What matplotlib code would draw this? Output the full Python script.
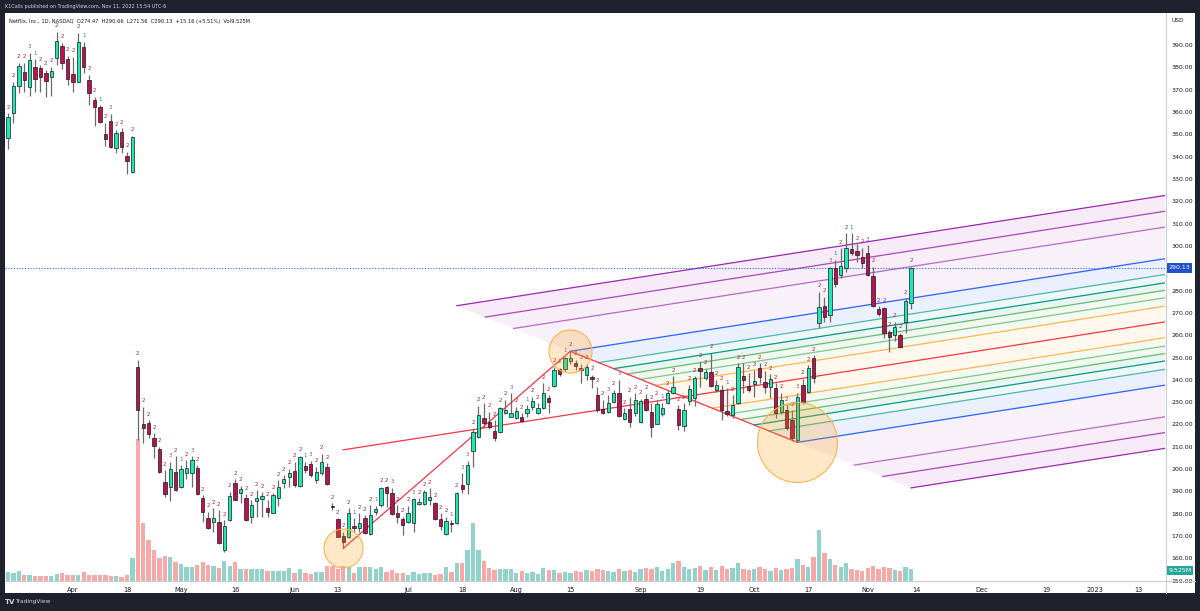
import matplotlib.pyplot as plt
import numpy as np
from matplotlib.patches import Rectangle, Polygon
from matplotlib.lines import Line2D

W, H = 1200, 611

# bar index 0 = Apr 1 2022 (trading days), first bar = Mar 16
first_bar = -12
opens = [348.2, 359.7, 371.8, 378.0, 371.1, 380.3, 379.6, 377.3, 375.5, 384.3, 389.6, 383.6,
         377.0, 373.6, 389.2, 374.3, 365.4, 362.1, 350.1, 356.1, 343.7, 351.2, 340.3, 333.2,
         245.6, 220.2, 220.5, 214.1, 209.1, 194.3, 191.8, 198.8, 192.1, 198.4, 198.1, 200.7,
         186.9, 178.0, 176.2, 176.2, 163.7, 177.2, 193.6, 189.4, 187.2, 178.4, 185.8, 186.5,
         182.4, 180.5, 186.9, 193.6, 196.6, 199.1, 192.3, 201.2, 202.3, 195.1, 198.1, 201.1,
         183.5, 177.6,
         170.0, 169.5, 174.5, 173.7, 178.0, 170.9, 180.6, 183.9, 192.1, 189.4, 180.2, 177.6,
         176.4, 176.0, 184.2, 184.4, 186.1, 185.0, 177.6, 170.8, 176.0, 175.7, 192.9, 193.4,
         208.2, 214.2, 222.7, 221.2, 217.2, 216.7, 225.0, 223.5, 222.7, 223.2, 225.3, 228.0,
         225.3, 227.2, 231.7, 237.4, 244.7, 244.7, 248.5,
         247.7, 245.5, 242.2, 241.2, 233.2, 226.8, 225.7, 230.2, 234.3, 222.3, 227.0, 225.0,
         221.3, 231.3, 225.7, 220.4, 224.5, 229.8, 234.0, 226.8, 219.5, 230.7, 231.7, 245.4,
         240.7, 243.3, 235.5, 235.5, 226.0, 224.2, 229.8, 241.8, 237.3, 238.0, 245.1, 239.2,
         236.9, 236.2, 225.7, 226.5, 221.8, 213.1, 237.9, 234.7, 249.9, 265.4, 273.2, 269.0,
         290.2, 287.0, 290.0, 298.6, 297.7, 295.2, 296.7, 286.7, 271.7, 272.1, 261.3, 260.1,
         260.1, 266.0, 274.47]
highs = [359.4, 373.6, 382.1, 382.1, 386.5, 383.6, 381.0, 378.8, 380.3, 396.0, 391.0, 385.1,
         384.8, 395.5, 391.5, 376.6, 366.8, 363.1, 355.2, 359.1, 351.9, 352.7, 342.2, 349.4,
         248.9, 228.0, 222.0, 216.0, 210.0, 199.6, 203.3, 205.8, 201.8, 204.0, 205.8, 201.8,
         188.4, 180.9, 182.4, 181.7, 177.2, 189.9, 195.4, 192.6, 188.8, 186.1, 190.6, 189.6,
         186.1, 189.1, 195.1, 197.3, 200.2, 203.3, 205.9, 203.3, 203.7, 201.0, 206.8, 202.6,
         184.7, 178.0,
         171.9, 182.5, 178.0, 180.2, 179.4, 183.9, 183.6, 192.1, 192.4, 191.7, 183.9, 178.7,
         183.6, 186.9, 186.9, 190.6, 191.4, 185.4, 180.2, 178.7, 177.2, 189.9, 198.1, 203.7,
         218.2, 228.3, 229.5, 225.7, 222.0, 228.0, 231.0, 234.0, 228.0, 225.0, 228.7, 232.5,
         229.5, 238.5, 233.2, 245.9, 245.5, 250.4, 253.0,
         248.9, 247.3, 247.3, 242.2, 236.9, 231.0, 233.2, 235.5, 240.1, 227.2, 232.5, 234.0,
         231.5, 233.8, 229.5, 231.0, 229.8, 235.5, 241.5, 228.7, 229.5, 237.7, 241.5, 248.1,
         245.0, 252.1, 240.1, 237.7, 236.3, 233.2, 247.4, 247.4, 243.0, 244.4, 247.4, 244.0,
         242.5, 238.5, 234.3, 228.7, 226.5, 234.3, 240.5, 246.6, 251.1, 279.5, 277.3, 290.7,
         293.7, 298.9, 305.6, 305.6, 300.7, 299.2, 300.4, 290.7, 273.0, 272.8, 262.3, 266.0,
         261.2, 276.5, 290.66]
lows = [343.3, 354.9, 368.6, 369.1, 367.1, 369.1, 369.1, 366.8, 367.1, 381.0, 379.1, 372.1,
        369.1, 373.3, 377.6, 363.1, 353.7, 354.9, 344.7, 343.8, 341.8, 341.8, 332.2, 332.8,
        213.0, 211.8, 213.8, 204.8, 198.4, 187.6, 185.8, 190.3, 191.5, 195.4, 191.8, 188.4,
        176.4, 173.1, 172.0, 166.4, 163.0, 176.9, 186.1, 184.7, 176.9, 176.0, 178.7, 178.7,
        178.7, 180.5, 183.6, 191.7, 192.1, 192.1, 191.8, 198.1, 196.6, 193.6, 197.3, 192.9,
        181.7, 169.5,
        164.5, 169.1, 171.9, 171.9, 170.9, 170.5, 179.4, 183.2, 182.9, 179.4, 175.7, 170.5,
        175.7, 171.7, 183.9, 183.9, 183.9, 177.2, 172.7, 170.5, 171.9, 175.3, 189.4, 188.8,
        200.8, 213.8, 219.0, 218.2, 212.6, 216.3, 224.6, 223.2, 222.3, 221.2, 223.2, 226.5,
        224.9, 226.8, 225.3, 237.0, 241.9, 244.1, 247.3,
        244.4, 238.5, 240.1, 236.2, 225.7, 224.6, 225.0, 229.5, 223.5, 222.0, 219.0, 223.8,
        220.8, 225.9, 214.5, 220.0, 223.9, 229.2, 233.7, 217.5, 217.2, 228.7, 228.3, 236.9,
        240.0, 236.9, 234.7, 222.0, 223.8, 222.7, 229.3, 234.0, 234.6, 232.5, 238.5, 234.0,
        232.0, 222.7, 224.5, 217.5, 212.6, 212.0, 229.0, 234.0, 238.5, 263.1, 266.0, 266.0,
        281.7, 285.5, 288.5, 295.9, 292.9, 290.0, 286.6, 272.8, 268.5, 258.6, 252.6, 257.4,
        254.4, 260.8, 271.56]
closes = [357.6, 371.6, 380.7, 374.3, 383.3, 374.6, 375.8, 373.9, 378.4, 391.9, 381.8, 374.6,
          373.6, 391.5, 380.3, 368.4, 362.1, 355.6, 347.9, 344.2, 350.4, 344.2, 338.0, 348.9,
          226.5, 218.4, 215.7, 210.3, 198.8, 188.8, 199.9, 190.6, 200.0, 200.5, 204.0, 188.8,
          180.9, 173.5, 178.0, 166.7, 174.5, 188.0, 186.4, 191.1, 177.2, 183.9, 186.9, 188.1,
          180.9, 188.4, 191.8, 195.4, 198.1, 192.9, 205.6, 199.6, 197.3, 198.8, 203.3, 193.4,
          182.9, 169.8,
          167.5, 180.5, 173.5, 175.7, 171.2, 179.4, 182.1, 191.4, 189.4, 179.9, 178.7, 175.0,
          180.2, 186.5, 185.4, 189.9, 187.4, 177.6, 174.5, 176.9, 175.3, 189.4, 191.1, 201.8,
          216.7, 224.2, 220.5, 218.7, 214.1, 227.2, 226.5, 225.0, 226.2, 221.7, 227.0, 230.4,
          227.2, 234.0, 230.2, 244.4, 242.5, 249.6, 249.6,
          246.2, 244.4, 245.6, 240.5, 226.5, 225.0, 229.8, 234.3, 223.8, 225.0, 221.3, 231.0,
          230.7, 226.5, 219.0, 229.0, 227.5, 234.0, 237.0, 219.8, 226.5, 235.8, 240.7, 244.1,
          243.3, 237.3, 237.7, 226.5, 224.5, 228.7, 245.9, 239.9, 235.5, 239.5, 241.2, 236.9,
          240.3, 225.0, 231.0, 218.3, 214.0, 232.5, 230.2, 245.4, 240.9, 272.8, 268.3, 289.9,
          282.8, 291.1, 298.9, 296.7, 295.9, 292.2, 287.0, 273.2, 269.4, 260.8, 259.0, 263.8,
          254.8, 275.3, 290.13]
volume_m = [7.2, 6.4, 8.0, 4.8, 4.8, 4.0, 4.0, 4.0, 4.0, 5.6, 6.4, 4.8,
            4.8, 4.8, 7.2, 4.8, 4.8, 4.8, 4.8, 4.0, 4.0, 3.2, 4.8, 18.4,
            113.6, 46.4, 32.8, 24.8, 18.4, 20.0, 19.2, 15.2, 13.6, 11.2, 11.2, 12.8,
            15.2, 12.8, 12.0, 10.4, 16.0, 12.0, 15.2, 9.6, 9.6, 9.6, 9.6, 9.6,
            8.0, 8.0, 8.0, 8.0, 10.4, 6.4, 9.6, 6.4, 5.6, 7.2, 7.2, 12.0, 12.0, 9.6,
            12.0, 11.2, 6.4, 11.2, 11.2, 11.2, 9.6, 11.2, 7.2, 8.8, 6.4, 6.4,
            4.8, 7.2, 5.6, 6.4, 6.4, 4.8, 5.6, 11.2, 7.2, 14.4, 14.4, 24.8,
            46.4, 24.8, 16.0, 10.4, 8.8, 9.6, 9.6, 9.6, 6.4, 8.0, 6.4, 7.2,
            5.6, 10.4, 8.8, 8.8, 6.4, 7.2, 6.4,
            8.0, 7.2, 8.8, 8.0, 9.6, 8.8, 8.0, 7.2, 9.6, 8.0, 8.8, 7.2,
            9.6, 10.4, 9.6, 11.2, 8.0, 9.6, 14.4, 16.0, 11.2, 9.6, 10.4, 12.0,
            8.8, 11.2, 8.8, 12.0, 9.6, 10.4, 14.4, 9.6, 8.8, 9.6, 11.2, 9.6,
            8.0, 10.4, 8.8, 9.6, 10.4, 17.6, 12.8, 11.2, 19.2, 40.8, 22.4, 17.6,
            12.8, 11.2, 14.4, 9.6, 8.8, 8.0, 10.4, 12.0, 9.6, 11.2, 10.4, 8.8,
            8.0, 11.2, 9.525]
# counter marks printed above each bar
marks = ("222231222222221221232222"
         "222222" "32123" "22222222222222222222" "13" "22222"
         "221222122" "3" "222" "3" "222222" "1" "2" "33" "2222222" "3" "22" "1" "222222" "1" "22"
         "22222" "3" "2" "3" "2222222" "1" "22222222222" "1" "222222222222" "3" "22222"
         "3" "1" "22" "1" "22" "3" "22222222")

tick_pos = [0, 10, 20, 30, 41, 49, 62, 72, 82, 92, 105, 116, 126, 136, 147, 156, 168, 180, 189, 197]
tick_txt = ['Apr', '18', 'May', '16', 'Jun', '13', 'Jul', '18', 'Aug', '15', 'Sep', '19',
            'Oct', '17', 'Nov', '14', 'Dec', '19', '2023', '13']
price_ticks = [150, 160, 170, 180, 190, 200, 210, 220, 230, 240, 250, 260, 270, 280,
               300, 310, 320, 330, 340, 350, 360, 370, 380, 390]

# pitchfork anchor points (bar, price)
pf_a = (50, 164.5)
pf_b = (92, 252.8)
pf_c = (134, 212.0)
levels = [0.25, 0.382, 0.5, 0.618, 0.75, 1, 1.5, 1.75, 2]
level_colors = ['#ffb74d', '#81c784', '#66bb6a', '#089981', '#4db6ac', '#2962ff',
                '#ba68c8', '#ab47bc', '#9c27b0']
last_price = 290.13

o = np.array(opens); h = np.array(highs); l = np.array(lows); c = np.array(closes)
v = np.array(volume_m)
idx = np.arange(first_bar, first_bar + len(o))
up = c >= o

XMIN, XMAX = -12.56, 201.98
YMIN, YMAX = 149.9, 404.3

fig = plt.figure(figsize=(12, 6.11), dpi=100, facecolor='#1e222d')
fig.add_artist(Rectangle((5 / W, (H - 593) / H), 1190 / W, 580 / H, transform=fig.transFigure,
                         facecolor='white', edgecolor='none', zorder=-10))
pos = [5 / W, (H - 581) / H, 1160 / W, 568 / H]

# volume pane
axv = fig.add_axes(pos)
axv.set_xlim(XMIN, XMAX)
axv.set_ylim(0, 568 * 0.8)
axv.bar(idx, v, width=0.8, color=np.where(up, '#92d2cc', '#f7a9a8'), linewidth=0)
axv.axis('off')

ax = fig.add_axes(pos)
ax.patch.set_visible(False)
ax.set_xlim(XMIN, XMAX)
ax.set_ylim(YMIN, YMAX)

# pitchfork (modified Schiff)
sx, sy = pf_a[0], (pf_a[1] + pf_b[1]) / 2
mx, my = (pf_b[0] + pf_c[0]) / 2, (pf_b[1] + pf_c[1]) / 2
slope = (my - sy) / (mx - sx)


def level_line(k, pt):
    x0 = mx + k * (pt[0] - mx)
    y0 = my + k * (pt[1] - my)
    return (x0, y0), (XMAX, y0 + slope * (XMAX - x0))


for pt in (pf_b, pf_c):
    prev = level_line(0, pt)
    for k, col in zip(levels, level_colors):
        cur = level_line(k, pt)
        ax.add_patch(Polygon([prev[0], prev[1], cur[1], cur[0]], closed=True,
                             facecolor=col, alpha=0.09, edgecolor='none', zorder=1))
        ax.plot([cur[0][0], cur[1][0]], [cur[0][1], cur[1][1]], color=col, lw=0.9, zorder=2)
        prev = cur
ax.plot([sx, XMAX], [sy, sy + slope * (XMAX - sx)], color='#f23645', lw=0.9, zorder=2)
ax.plot([pf_a[0], pf_b[0], pf_c[0]], [pf_a[1], pf_b[1], pf_c[1]], color='#f23645', lw=0.9, zorder=2)

# last price line
ax.axhline(last_price, color='#2962ff', lw=0.8, ls=(0, (1, 1.5)), zorder=2)

# candles
ax.vlines(idx, l, h, color='#6b6b6b', lw=0.9, zorder=3)
body_lo = np.minimum(o, c)
body_h = np.maximum(np.abs(c - o), 0.35)
ax.bar(idx, body_h, bottom=body_lo, width=0.62, color=np.where(up, '#1de9b6', '#b8134d'),
       edgecolor='#1a1a1a', linewidth=0.5, zorder=4)

mark_colors = {'1': '#2962ff', '2': '#a3243a', '3': '#6b6b6b'}
for i, hi, m in zip(idx, h, marks):
    ax.annotate(m, (i, hi), xytext=(0, 2.5), textcoords='offset points', ha='center',
                va='bottom', fontsize=4, color=mark_colors[m], zorder=5)

# highlight circles
for pt, r in ((pf_a, 19.5), (pf_b, 21.5), (pf_c, 40)):
    d = 2 * r * 0.72
    ax.scatter([pt[0]], [pt[1]], s=d * d, facecolor=(1.0, 0.6, 0.0, 0.22),
               edgecolor='#ffb14e', linewidth=0.8, zorder=6)

# axes styling
for s in ax.spines.values():
    s.set_visible(False)
ax.yaxis.tick_right()
ax.set_yticks(price_ticks)
ax.set_yticklabels([f'{t:.2f}' for t in price_ticks])
ax.tick_params(axis='y', length=0, pad=4.5, labelsize=4.5, labelcolor='#131722')
ax.set_xticks(tick_pos)
ax.set_xticklabels(tick_txt)
ax.tick_params(axis='x', length=0, pad=4, labelsize=4.8, labelcolor='#131722')

ax.annotate(f'{last_price:.2f}', (1, last_price), xycoords=('axes fraction', 'data'),
            xytext=(2.5, 0), textcoords='offset points', ha='left', va='center', fontsize=4.5,
            color='white', zorder=7,
            bbox=dict(boxstyle='square,pad=0.35', fc='#2150c8', ec='none'))
ax.annotate('9.525M', (1, 154.6), xycoords=('axes fraction', 'data'),
            xytext=(2.5, 0), textcoords='offset points', ha='left', va='center', fontsize=4.5,
            color='white', zorder=7, annotation_clip=False,
            bbox=dict(boxstyle='square,pad=0.3', fc='#26a69a', ec='none'))

fig.add_artist(Line2D([1165.5 / W, 1165.5 / W], [(H - 593) / H, (H - 13) / H],
                      transform=fig.transFigure, color='#c9ccd4', lw=0.8))
fig.add_artist(Line2D([5 / W, 1195 / W], [(H - 581) / H, (H - 581) / H],
                      transform=fig.transFigure, color='#c9ccd4', lw=0.8))

fig.text(1172 / W, 1 - 20 / H, 'USD', fontsize=4.2, color='#131722', va='center')
fig.text(5 / W, 1 - 6.5 / H, 'K1Calls published on TradingView.com, Nov 11, 2022 15:54 UTC-6',
         fontsize=3.5, color='#d1d4dc', va='center')
fig.text(9 / W, 1 - 22 / H,
         'Netflix, Inc., 1D, NASDAQ  O274.47  H290.66  L271.56  C290.13  +15.16 (+5.51%)  Vol9.525M',
         fontsize=3.7, color='#131722', va='center')
fig.text(5 / W, 1 - 602 / H, 'TV', fontsize=5, fontweight='bold', color='#d1d4dc', va='center')
fig.text(15 / W, 1 - 602 / H, 'TradingView', fontsize=4.2, color='#d1d4dc', va='center')

fig.savefig('out.png', dpi=100, facecolor=fig.get_facecolor())
